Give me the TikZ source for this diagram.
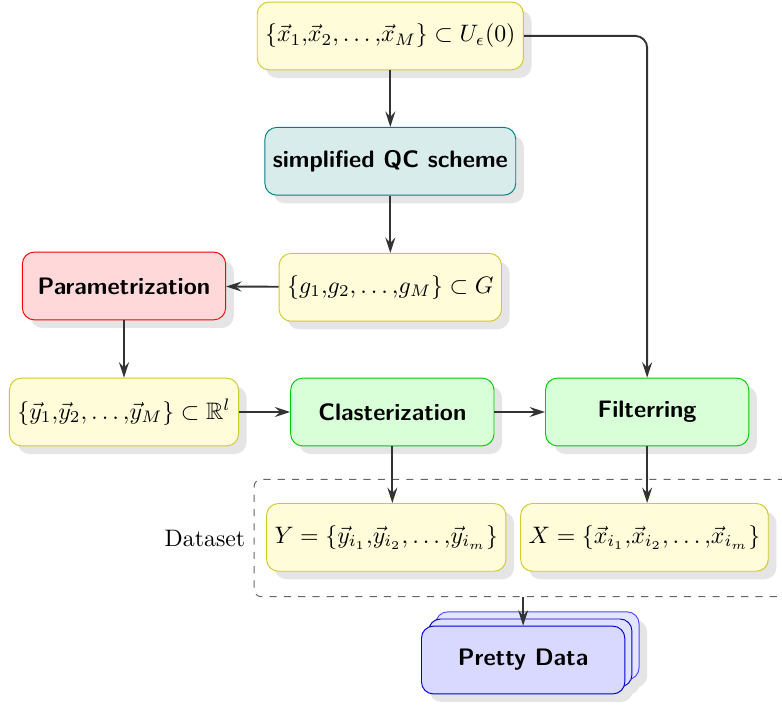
\documentclass[tikz,border=0pt]{standalone}
\usepackage{amssymb}
\usetikzlibrary{shadows,arrows.meta}

\tikzset{
    roundbox/.style={rectangle,rounded corners=5pt,minimum height=1cm,
        drop shadow={shadow xshift=3.4pt,shadow yshift=-3.4pt,fill=black!10,opacity=1}},
    setbox/.style={roundbox,draw=yellow!80!black,fill=yellow!15},
    procbox/.style={roundbox,minimum width=3cm,font=\sffamily\bfseries},
    multidoc/.style={rectangle,rounded corners=5pt,minimum width=3cm,minimum height=1cm,
        font=\sffamily\bfseries,draw=blue!80!black,fill=blue!15,
        drop shadow={shadow xshift=9.4pt,shadow yshift=2.6pt,fill=black!10,opacity=1},
        drop shadow={shadow xshift=6.4pt,shadow yshift=-0.4pt,fill=black!10,opacity=1},
        drop shadow={shadow xshift=3.4pt,shadow yshift=-3.4pt,fill=black!10,opacity=1},
        copy shadow={shadow xshift=6pt,shadow yshift=6pt,fill=blue!10,draw=blue!70},
        copy shadow={shadow xshift=3pt,shadow yshift=3pt,fill=blue!12,draw=blue!80!black}},
    line/.style={draw=black!80,thick,-{Stealth[length=6.5pt,width=4.2pt,inset=2.3pt]}}
}

\begin{document}
\begin{tikzpicture}
    \useasboundingbox (0,0) rectangle (11.54,-10.42);
    \node[draw=black!60,dashed,rounded corners=3pt,minimum width=7.94cm,minimum height=1.73cm,label=left:Dataset] (dataset) at (7.72,-7.94) {};

    \node[setbox] (xs) at (5.76,-0.53) {$\{\vec{x}_1{,}\vec{x}_2{,}\ldots{,}\vec{x}_M\}\subset U_\epsilon(0)$};
    \node[procbox,draw=teal,fill=teal!15] (qc) at (5.76,-2.38) {simplified QC scheme};
    \node[setbox] (gs) at (5.76,-4.24) {$\{g_1{,}g_2{,}\ldots{,}g_M\}\subset G$};
    \node[procbox,draw=red,fill=red!15] (param) at (1.83,-4.22) {Parametrization};
    \node[setbox] (ys) at (1.83,-6.08) {$\{\vec{y}_1{,}\vec{y}_2{,}\ldots{,}\vec{y}_M\}\subset\mathbb{R}^l$};
    \node[procbox,draw=green!80!black,fill=green!15] (clast) at (5.79,-6.08) {Clasterization};
    \node[procbox,draw=green!80!black,fill=green!15] (filt) at (9.55,-6.08) {Filterring};
    \node[setbox] (ysel) at (5.70,-7.93) {$Y=\{\vec{y}_{i_1}{,}\vec{y}_{i_2}{,}\ldots{,}\vec{y}_{i_m}\}$};
    \node[setbox] (xsel) at (9.51,-7.93) {$X=\{\vec{x}_{i_1}{,}\vec{x}_{i_2}{,}\ldots{,}\vec{x}_{i_m}\}$};
    \node[multidoc] (pretty) at (7.72,-9.74) {Pretty Data};

    \path[line] (xs) -- (qc);
    \path[line] (qc) -- (gs);
    \path[line] (gs) -- (param);
    \path[line] (param) -- (ys);
    \path[line] (ys) -- (clast);
    \path[line] (clast) -- (filt);
    \path[line,rounded corners=5pt] (xs.east) -| (filt.north);
    \path[line] (clast.south) -- (clast.south |- ysel.north);
    \path[line] (filt.south) -- (filt.south |- xsel.north);
    \path[line] (dataset.south) -- (pretty.north);
%    \path[draw,dashed] (ysel.east) -- (xsel.west);
  \end{tikzpicture}
\end{document}
